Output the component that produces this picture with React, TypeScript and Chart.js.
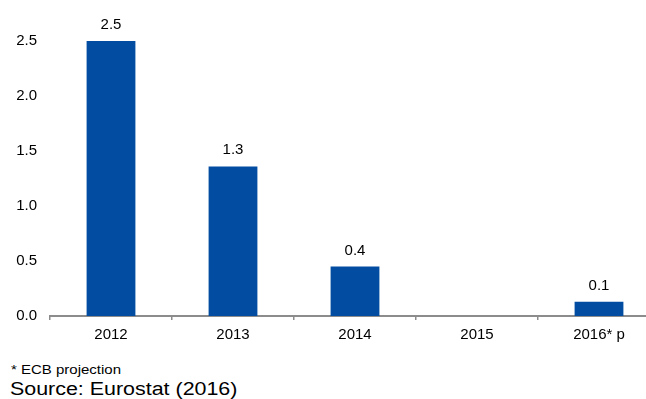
import React, { useEffect, useRef } from "react";
import { Chart, registerables } from "chart.js";

Chart.register(...registerables);

const categories = ["2012", "2013", "2014", "2015", "2016* p"];
const values = [2.5, 1.36, 0.45, 0, 0.13];
const valueLabels = ["2.5", "1.3", "0.4", "", "0.1"];
const yTicks = [0, 0.5, 1.0, 1.5, 2.0, 2.5];
const footnote = "* ECB projection";
const source = "Source: Eurostat (2016)";

const FONT = "'Liberation Sans', Arial, sans-serif";

const valueLabelPlugin = {
  id: "valueLabels",
  afterDatasetsDraw(chart: any) {
    const ctx = chart.ctx;
    const meta = chart.getDatasetMeta(0);
    ctx.save();
    ctx.font = `15px ${FONT}`;
    ctx.fillStyle = "#000";
    ctx.textAlign = "center";
    ctx.textBaseline = "alphabetic";
    meta.data.forEach((bar: any, i: number) => {
      const t = valueLabels[i];
      if (!t) return;
      ctx.fillText(t, bar.x, bar.y - 12);
    });
    ctx.restore();
  },
};

export default function App() {
  const ref = useRef<HTMLCanvasElement>(null);
  useEffect(() => {
    if (!ref.current) return;
    const chart = new Chart(ref.current, {
      type: "bar",
      data: {
        labels: categories,
        datasets: [
          {
            data: values,
            backgroundColor: "#024da1",
            borderWidth: 0,
            barPercentage: 0.4,
            categoryPercentage: 1,
          },
        ],
      },
      options: {
        responsive: false,
        animation: false,
        maintainAspectRatio: false,
        layout: { padding: { top: 41, left: 0, right: 0, bottom: 0 } },
        plugins: { legend: { display: false }, tooltip: { enabled: false } },
        scales: {
          x: {
            grid: {
              display: true,
              drawOnChartArea: false,
              drawTicks: true,
              tickLength: 4,
              color: "#8c8c8c",
              lineWidth: 1.5,
              offset: true,
            },
            border: { display: true, color: "#8c8c8c", width: 2 },
            ticks: {
              color: "#000",
              font: { family: FONT, size: 15 },
              padding: 6,
              maxRotation: 0,
              autoSkip: false,
            },
            afterFit: (s: any) => {
              s.height = 30;
            },
          },
          y: {
            min: 0,
            max: 2.5,
            afterBuildTicks: (s: any) => {
              s.ticks = yTicks.map((v) => ({ value: v }));
            },
            grid: { display: false, drawTicks: false },
            border: { display: false },
            ticks: {
              color: "#000",
              font: { family: FONT, size: 15 },
              padding: 13,
              callback: (v: any) => Number(v).toFixed(1),
            },
            afterFit: (s: any) => {
              s.width = 50;
            },
          },
        },
      },
      plugins: [valueLabelPlugin],
    });
    return () => chart.destroy();
  }, []);

  return (
    <div
      style={{
        position: "fixed",
        left: 0,
        top: 0,
        width: 646,
        height: 399,
        overflow: "hidden",
        background: "#fff",
        fontFamily: FONT,
      }}
    >
      <canvas
        ref={ref}
        width={660}
        height={346}
        style={{ position: "absolute", left: 0, top: 0, width: 660, height: 346 }}
      />
      <div
        style={{
          position: "absolute",
          left: 11,
          top: 363,
          fontSize: 12.5,
          lineHeight: "14px",
          color: "#000",
          whiteSpace: "nowrap",
          transform: "scaleX(1.2)",
          transformOrigin: "left top",
        }}
      >
        {footnote}
      </div>
      <div
        style={{
          position: "absolute",
          left: 10,
          top: 379,
          fontSize: 18,
          lineHeight: "20px",
          color: "#000",
          whiteSpace: "nowrap",
          transform: "scaleX(1.19)",
          transformOrigin: "left top",
        }}
      >
        {source}
      </div>
    </div>
  );
}
